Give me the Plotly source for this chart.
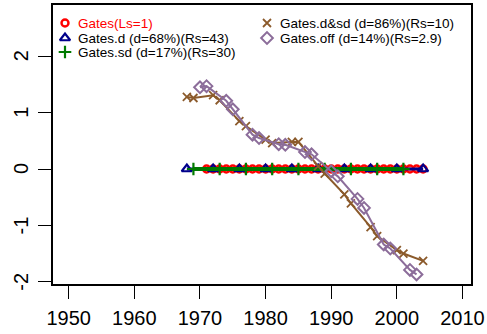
import plotly.graph_objects as go

# -----------------------------
# Data
# -----------------------------
gates_year = [1971, 1972, 1973, 1974, 1975, 1976, 1977, 1978, 1979, 1980, 1981, 1982,
              1983, 1984, 1985, 1986, 1987, 1988, 1989, 1990, 1991, 1992, 1993, 1994,
              1995, 1996, 1997, 1998, 1999, 2000, 2001, 2002, 2003, 2004]
gates_val = [0, 0, 0, 0, 0, 0, 0, 0, 0, 0, 0, 0, 0, 0, 0, 0, 0,
             0, 0, 0, 0, 0, 0, 0, 0, 0, 0, 0, 0, 0, 0, 0, 0, 0]

d_year = [1968, 1972, 1976, 1980, 1984, 1988, 1992, 1996, 2000, 2004]
d_val = [0, 0, 0, 0, 0, 0, 0, 0, 0, 0]

sd_year = [1969, 1973, 1977, 1981, 1985, 1989, 1993, 1997, 2001]
sd_val = [0, 0, 0, 0, 0, 0, 0, 0, 0]

dsd_year = [1968, 1969, 1972, 1973, 1976, 1977, 1980, 1981, 1984, 1985,
            1988, 1989, 1992, 1993, 1996, 1997, 2000, 2001, 2004]
dsd_val = [1.28, 1.26, 1.31, 1.22, 0.85, 0.76, 0.52, 0.46, 0.48, 0.48,
           0.05, -0.08, -0.45, -0.61, -1.03, -1.19, -1.44, -1.50, -1.63]

off_year = [1970, 1971, 1974, 1975, 1978, 1979, 1982, 1983, 1986, 1987,
            1990, 1991, 1994, 1995, 1998, 1999, 2002, 2003]
off_val = [1.45, 1.47, 1.21, 1.06, 0.61, 0.55, 0.44, 0.43, 0.30, 0.26,
           -0.04, -0.13, -0.53, -0.69, -1.34, -1.41, -1.79, -1.87]

x_ticks = [1950, 1960, 1970, 1980, 1990, 2000, 2010]
y_ticks = [-2, -1, 0, 1, 2]
y_ticktext = ["-2", "-1", "0", "1", "2"]

labels = ["Gates(Ls=1)", "Gates.d (d=68%)(Rs=43)", "Gates.sd (d=17%)(Rs=30)",
          "Gates.d&sd (d=86%)(Rs=10)", "Gates.off (d=14%)(Rs=2.9)"]

# -----------------------------
# Styles
# -----------------------------
RED = "#FF0000"
BLUE = "#00008B"
GREEN = "#007A00"
BROWN = "#8B5A2B"
PURPLE = "#8C6D9A"

series = [
    (gates_year, gates_val, RED, "circle-open", 7, 2.4, 3),
    (d_year, d_val, BLUE, "triangle-up-open", 9, 2.2, 3),
    (sd_year, sd_val, GREEN, "cross-thin-open", 9, 2.2, 4),
    (dsd_year, dsd_val, BROWN, "x-thin-open", 8, 1.8, 2),
    (off_year, off_val, PURPLE, "diamond-open", 9, 2.0, 2),
]

fig = go.Figure()

for (xs, ys, col, sym, size, mlw, lw), name in zip(series, labels):
    fig.add_trace(go.Scatter(
        x=xs, y=ys, mode="lines+markers", name=name, showlegend=False,
        line=dict(color=col, width=lw),
        marker=dict(symbol=sym, size=size, color=col, line=dict(color=col, width=mlw)),
    ))

# -----------------------------
# Hand-drawn legend (pixel-based overlay axes)
# -----------------------------
key_x = [65, 65, 65, 267, 267]
key_y = [23, 38, 52, 23, 38]
for i, (xs, ys, col, sym, size, mlw, lw) in enumerate(series):
    fig.add_trace(go.Scatter(
        x=[key_x[i]], y=[key_y[i]], mode="markers", showlegend=False,
        xaxis="x2", yaxis="y2", hoverinfo="skip",
        marker=dict(symbol=sym, size=size, color=col, line=dict(color=col, width=mlw)),
    ))
    fig.add_annotation(
        x=key_x[i] + 12, y=key_y[i], xref="x2", yref="y2", text=labels[i],
        showarrow=False, xanchor="left", yanchor="middle", borderpad=0,
        font=dict(size=13.5, color=RED if i == 0 else "black"),
    )

# y tick labels, R style (rotated, parallel to the axis)
for v, t in zip(y_ticks, y_ticktext):
    fig.add_annotation(
        x=0, y=v, xref="paper", yref="y", text=t, textangle=-90,
        showarrow=False, xanchor="center", yanchor="middle", xshift=-32,
        font=dict(size=20, color="black"),
    )

axis_common = dict(
    showgrid=False, zeroline=False, showline=True, mirror=True, automargin=False,
    linecolor="black", linewidth=1.5, ticks="outside", ticklen=13,
    tickwidth=1.2, tickcolor="black", tickfont=dict(size=20, color="black"),
)

fig.update_layout(
    width=487, height=334,
    margin=dict(l=53, r=16, t=5, b=50),
    paper_bgcolor="white", plot_bgcolor="white",
    font=dict(family="Liberation Sans, Arial, sans-serif", color="black"),
    xaxis=dict(range=[1947.6, 2011.3], tickvals=x_ticks, ticklabelstandoff=2,
               **axis_common),
    yaxis=dict(range=[-2.04, 2.91], tickvals=y_ticks, showticklabels=False,
               **axis_common),
    xaxis2=dict(range=[53, 471], overlaying="x", visible=False),
    yaxis2=dict(range=[284, 5], overlaying="y", visible=False),
    showlegend=False,
)

# page body has a default margin; remove it so the figure sits at the corner
fig.write_html("out.html", config={"displayModeBar": False},
               post_script="document.body.style.margin='0';"
                           "document.body.style.overflow='hidden';")
